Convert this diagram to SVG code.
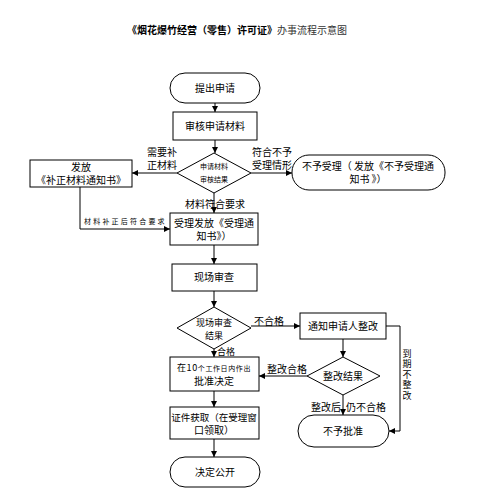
<svg xmlns="http://www.w3.org/2000/svg" width="500" height="500" viewBox="0 0 500 500">
<defs>
<marker id="ah" viewBox="0 0 10 10" refX="10" refY="5" markerWidth="6" markerHeight="6" orient="auto" markerUnits="userSpaceOnUse">
<path d="M0,0 L10,5 L0,10 z" fill="#000"/>
</marker>
<style>
.s{fill:#fff;stroke:#000;stroke-width:1}
.l{fill:none;stroke:#000;stroke-width:1}
text{font-family:"Noto Sans CJK SC","Liberation Sans",sans-serif;fill:#000;font-size:10px}
.c{text-anchor:middle}
.sm{font-size:7px}
.t{font-size:10px;font-weight:bold}
</style>
</defs>
<rect width="500" height="500" fill="#fff"/>
<text x="127" y="34" class="t">《烟花爆竹经营（零售）许可证》<tspan style="font-weight:normal;fill:#333">办事流程示意图</tspan></text>

<g id="connectors">
<line class="l" x1="215" y1="103" x2="215" y2="112" marker-end="url(#ah)"/>
<line class="l" x1="215" y1="140" x2="215" y2="153" marker-end="url(#ah)"/>
<line class="l" x1="177" y1="173" x2="132" y2="173" marker-end="url(#ah)"/>
<line class="l" x1="251" y1="173" x2="292" y2="173" marker-end="url(#ah)"/>
<line class="l" x1="214" y1="193" x2="214" y2="213" marker-end="url(#ah)"/>
<polyline class="l" points="80,187 80,229 170,229" marker-end="url(#ah)"/>
<line class="l" x1="214" y1="245" x2="214" y2="264" marker-end="url(#ah)"/>
<line class="l" x1="214" y1="291" x2="214" y2="307" marker-end="url(#ah)"/>
<line class="l" x1="251" y1="326" x2="300" y2="326" marker-end="url(#ah)"/>
<line class="l" x1="214" y1="349" x2="214" y2="357" marker-end="url(#ah)"/>
<line class="l" x1="343" y1="339" x2="343" y2="357" marker-end="url(#ah)"/>
<line class="l" x1="307" y1="376" x2="259" y2="376" marker-end="url(#ah)"/>
<line class="l" x1="343" y1="395" x2="343" y2="415" marker-end="url(#ah)"/>
<polyline class="l" points="386,326 400,326 400,431 389,431" marker-end="url(#ah)"/>
<line class="l" x1="214" y1="391" x2="214" y2="407" marker-end="url(#ah)"/>
<line class="l" x1="214" y1="439" x2="214" y2="457" marker-end="url(#ah)"/>
<text class="c"><tspan x="162" y="156">需要补</tspan><tspan x="162" y="169">正材料</tspan></text>
<text class="c"><tspan x="272" y="156">符合不予</tspan><tspan x="272" y="169">受理情形</tspan></text>
<text x="215" y="208" class="c">材料符合要求</text>
<text x="84" y="224" style="font-size:7px;letter-spacing:2.2px">材料补正后符合要求</text>
<text x="269" y="325" class="c">不合格</text>
<text x="217" y="355" style="font-size:9px">合格</text>
<text x="287" y="373" class="c">整改合格</text>
<text x="341" y="411" text-anchor="end">整改后</text>
<text x="346" y="411">仍不合格</text>
<text x="407" y="349" style="writing-mode:vertical-rl;font-size:9px;letter-spacing:1.5px">到期不整改</text>
</g>

<g id="start"><rect class="s" x="170" y="73" width="90" height="30" rx="15"/><text x="215" y="92" class="c">提出申请</text></g>
<g id="review"><rect class="s" x="173" y="112" width="84" height="28"/><text x="215" y="130" class="c">审核申请材料</text></g>
<g id="check"><polygon class="s" points="214,153 251,173 214,193 177,173"/><text class="c sm"><tspan x="214" y="169">申请材料</tspan><tspan x="214" y="182">审核结果</tspan></text></g>
<g id="supplement"><rect class="s" x="30" y="160" width="102" height="27"/><text class="c"><tspan x="81" y="171">发放</tspan><tspan x="81" y="184">《补正材料通知书》</tspan></text></g>
<g id="reject1"><rect class="s" x="292" y="155" width="153" height="35" rx="17"/><text class="c"><tspan x="368" y="170">不予受理（ 发放《不予受理通</tspan><tspan x="368" y="183">知书 》）</tspan></text></g>
<g id="accept"><rect class="s" x="170" y="213" width="88" height="32"/><text class="c"><tspan x="214" y="227">受理发放《受理通</tspan><tspan x="214" y="240">知书》）</tspan></text></g>
<g id="onsite"><rect class="s" x="172" y="264" width="85" height="27"/><text x="214" y="281" class="c">现场审查</text></g>
<g id="result"><polygon class="s" points="214,307 251,328 214,349 177,328"/><text class="c" style="font-size:9px"><tspan x="214" y="326">现场审查</tspan><tspan x="214" y="339">结果</tspan></text></g>
<g id="notify"><rect class="s" x="300" y="313" width="86" height="26"/><text x="343" y="330" class="c">通知申请人整改</text></g>
<g id="approve"><rect class="s" x="170" y="357" width="89" height="34"/><text class="c"><tspan x="214" y="371" style="font-size:7px;letter-spacing:0.6px"><tspan style="font-size:9px">在10</tspan>个工作日内作出</tspan><tspan x="214" y="385">批准决定</tspan></text></g>
<g id="fixresult"><polygon class="s" points="343,357 380,376 343,395 307,376"/><text x="343" y="380" class="c">整改结果</text></g>
<g id="pickup"><rect class="s" x="170" y="407" width="89" height="32"/><text class="c"><tspan x="214" y="421" style="font-size:9.5px">证件获取（在受理窗</tspan><tspan x="214" y="434">口领取）</tspan></text></g>
<g id="reject2"><rect class="s" x="298" y="415" width="91" height="32" rx="16"/><text x="343" y="435" class="c">不予批准</text></g>
<g id="publish"><rect class="s" x="170" y="457" width="90" height="30" rx="15"/><text x="215" y="476" class="c">决定公开</text></g>
</svg>
